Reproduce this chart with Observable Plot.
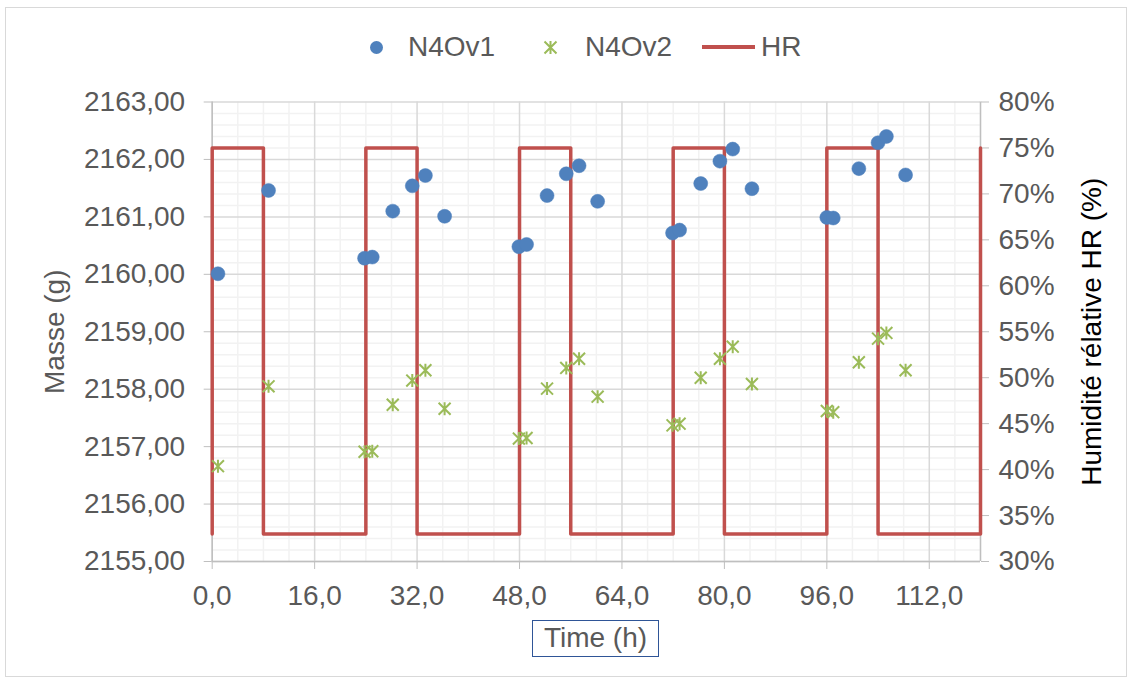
<!DOCTYPE html>
<html>
<head>
<meta charset="utf-8">
<script src="https://cdn.jsdelivr.net/npm/d3@7"></script>
<script src="https://cdn.jsdelivr.net/npm/@observablehq/plot@0.6"></script>
<style>
  body { margin: 0; background: #fff; }
  #wrap { position: relative; width: 1134px; height: 684px; font-family: "Liberation Sans", Arial, sans-serif; color: #595959; overflow: hidden; }
  #frame { position: absolute; left: 5px; top: 7px; width: 1122px; height: 670px; border: 1.5px solid #d9d9d9; box-sizing: border-box; }
  .lg { position: absolute; font-size: 28px; line-height: 28px; white-space: nowrap; }
  #chart { position: absolute; left: 0; top: 80px; }
  #xtitle { position: absolute; left: 532px; top: 620px; width: 127px; height: 37px; border: 1.5px solid #2F5597; box-sizing: border-box; font-size: 28px; line-height: 34px; text-align: center; color: #595959; }
</style>
</head>
<body>
<div id="wrap">
  <div id="frame"></div>
  <div class="lg" style="left:370px;top:41px;width:13px;height:13px;border-radius:50%;background:#4F81BD;"></div>
  <div class="lg" style="left:408px;top:33px;">N4Ov1</div>
  <svg class="lg" style="left:543px;top:40px;" width="15" height="15" viewBox="-7.5 -7.5 15 15"><path d="M-6,-6L6,6M-6,6L6,-6M0,-6.5L0,6.5" stroke="#9BBB59" stroke-width="2" fill="none"/></svg>
  <div class="lg" style="left:585px;top:33px;">N4Ov2</div>
  <div class="lg" style="left:702px;top:45px;width:53px;height:3.5px;background:#C0504D;"></div>
  <div class="lg" style="left:761px;top:33px;">HR</div>
  <div id="chart"></div>
  <div id="xtitle">Time (h)</div>
</div>
<script>
// ---- Data ----
const times = [0.9, 8.8, 23.8, 25.0, 28.2, 31.25, 33.3, 36.3, 47.9, 49.1, 52.3, 55.3, 57.3, 60.2, 71.9, 73.0, 76.3, 79.3, 81.3, 84.3, 96.0, 97.0, 101.0, 104.0, 105.3, 108.3];
const massN4Ov1 = [2160.01, 2161.46, 2160.28, 2160.30, 2161.10, 2161.54, 2161.72, 2161.01, 2160.48, 2160.52, 2161.37, 2161.75, 2161.89, 2161.27, 2160.72, 2160.77, 2161.58, 2161.97, 2162.18, 2161.49, 2160.99, 2160.98, 2161.84, 2162.29, 2162.40, 2161.73];
const massN4Ov2 = [2156.66, 2158.05, 2156.91, 2156.92, 2157.73, 2158.15, 2158.33, 2157.66, 2157.14, 2157.15, 2158.01, 2158.37, 2158.53, 2157.87, 2157.37, 2157.40, 2158.20, 2158.53, 2158.74, 2158.09, 2157.62, 2157.60, 2158.47, 2158.88, 2158.98, 2158.33];
const hrTimes = [0, 0, 8, 8, 24, 24, 32, 32, 48, 48, 56, 56, 72, 72, 80, 80, 96, 96, 104, 104, 120, 120];
const hrValues = [33, 75, 75, 33, 33, 75, 75, 33, 33, 75, 75, 33, 33, 75, 75, 33, 33, 75, 75, 33, 33, 75];
const xTicks = [0, 16, 32, 48, 64, 80, 96, 112];
const massTicks = [2155, 2156, 2157, 2158, 2159, 2160, 2161, 2162, 2163];
const hrTicks = [30, 35, 40, 45, 50, 55, 60, 65, 70, 75, 80];

// ---- Dual-axis mapping (HR % -> mass axis) ----
const yMin = 2155, yMax = 2163, hrMin = 30, hrMax = 80;
const hrToY = h => yMin + (h - hrMin) / (hrMax - hrMin) * (yMax - yMin);
const yToHr = y => hrMin + (y - yMin) / (yMax - yMin) * (hrMax - hrMin);

const n4ov1 = times.map((t, i) => ({t, m: massN4Ov1[i]}));
const n4ov2 = times.map((t, i) => ({t, m: massN4Ov2[i]}));
const hr = hrTimes.map((t, i) => ({t, hr: hrValues[i]}));

const xMinor = d3.range(0, 121, 4).filter(d => d % 16 !== 0);
const yMinor = d3.range(0, 41).map(i => yMin + i * 0.2).filter(d => Math.abs(d - Math.round(d)) > 1e-6);

const starSymbol = {
  draw(ctx, size) {
    const r = Math.sqrt(size / Math.PI);
    const a = r * 0.92;
    ctx.moveTo(-a, -a); ctx.lineTo(a, a);
    ctx.moveTo(-a, a); ctx.lineTo(a, -a);
    ctx.moveTo(0, -r); ctx.lineTo(0, r);
  }
};

const fmtMass = d => d.toFixed(2).replace(".", ",");
const fmtX = d => d.toFixed(1).replace(".", ",");

const chart = Plot.plot({
  width: 1134,
  height: 604,
  marginLeft: 211.7,
  marginRight: 154,
  marginTop: 21.5,
  marginBottom: 123,
  x: {domain: [0, 120]},
  y: {domain: [yMin, yMax]},
  style: {fontSize: "28px", fontFamily: "'Liberation Sans', Arial, sans-serif", color: "#595959", background: "transparent", overflow: "visible"},
  marks: [
    Plot.ruleX(xMinor, {stroke: "#f2f2f2", strokeWidth: 1.5}),
    Plot.ruleY(yMinor, {stroke: "#f2f2f2", strokeWidth: 1.5}),
    Plot.ruleX(xTicks, {stroke: "#d9d9d9", strokeWidth: 1.5}),
    Plot.ruleY(massTicks, {stroke: "#d9d9d9", strokeWidth: 1.5}),
    Plot.ruleX([0, 120], {stroke: "#bfbfbf", strokeWidth: 1.5}),
    Plot.ruleY([yMin], {stroke: "#bfbfbf", strokeWidth: 1.5}),
    Plot.axisX(xTicks, {tickFormat: fmtX, tickSize: 8, tickPadding: 16, stroke: "#bfbfbf", fill: "#595959", label: null, fontSize: 28}),
    Plot.axisY(massTicks, {anchor: "left", tickFormat: fmtMass, tickSize: 8, tickPadding: 19, stroke: "#bfbfbf", fill: "#595959", label: null, fontSize: 28}),
    Plot.axisY(hrTicks.map(hrToY), {anchor: "right", tickFormat: d => Math.round(yToHr(d)) + "%", tickSize: 8, tickPadding: 10, stroke: "#bfbfbf", fill: "#595959", label: null, fontSize: 28}),
    Plot.text(["Masse (g)"], {frameAnchor: "left", dx: -156.7, rotate: -90, fontSize: 28, fill: "#595959", textAnchor: "middle"}),
    Plot.text(["Humidité rélative HR (%)"], {frameAnchor: "right", dx: 112, rotate: -90, fontSize: 28, fill: "#000000", textAnchor: "middle"}),
    Plot.line(hr, {x: "t", y: d => hrToY(d.hr), stroke: "#C0504D", strokeWidth: 3.5, curve: "linear"}),
    Plot.dot(n4ov1, {x: "t", y: "m", r: 7, fill: "#4F81BD", stroke: "#4F81BD", strokeWidth: 0.5}),
    Plot.dot(n4ov2, {x: "t", y: "m", r: 6.5, symbol: starSymbol, stroke: "#9BBB59", strokeWidth: 2, fill: "none"})
  ]
});
document.getElementById("chart").appendChild(chart);
</script>
</body>
</html>
